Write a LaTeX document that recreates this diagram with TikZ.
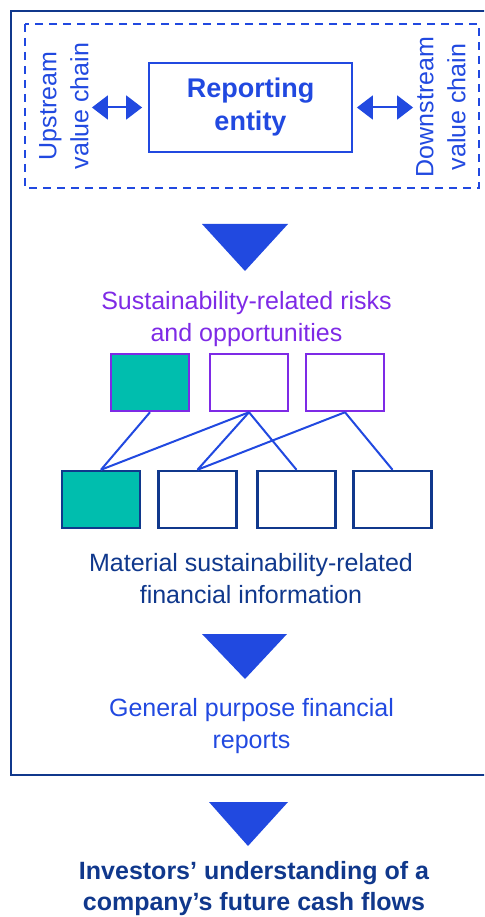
\documentclass[tikz,border=0pt]{standalone}
\usepackage{fontspec}
\setmainfont{Liberation Sans}
\usepackage{tikz}
\usetikzlibrary{arrows.meta}

\definecolor{framenavy}{RGB}{16,56,140}
\definecolor{brightblue}{RGB}{33,73,224}
\definecolor{riskpurple}{RGB}{126,42,230}
\definecolor{matteal}{RGB}{0,190,174}

\begin{document}
\begin{tikzpicture}[x=1pt, y=-1pt,
    txt/.style={align=center, font=\fontsize{25}{32}\selectfont},
    chain/.style={txt, text=brightblue, inner sep=3pt},
    dbl/.style={brightblue, line width=2pt, {Triangle[length=16pt,width=24pt]}-{Triangle[length=16pt,width=24pt]}},
    riskbox/.style={draw=riskpurple, line width=2.5pt, minimum width=78pt, minimum height=57pt},
    matbox/.style={draw=framenavy, line width=2.5pt, minimum width=78pt, minimum height=57pt},
    link/.style={brightblue, line width=2pt},
    down/.style={fill=brightblue}]
    \useasboundingbox (0,0) rectangle (484,917);
    \clip (0,0) rectangle (484,917);

    % outer frame, runs off the right edge
    \draw[framenavy, line width=2.5pt] (11,11) rectangle (500,775);

    % value chain
    \draw[brightblue, line width=2.5pt, dash pattern=on 8pt off 6pt] (25,24) rectangle (479,188);
    \node[draw=brightblue, line width=1.8pt, minimum width=203pt, minimum height=89pt,
          align=center, text=brightblue, font=\bfseries\fontsize{27}{33}\selectfont]
          (rep) at (250.5,107.5) {Reporting\\entity};
    \node[chain, rotate=90] (up) at (64,106) {Upstream\\value chain};
    \node[chain, rotate=90] (dn) at (441,107) {Downstream\\value chain};
    \draw[dbl] (up.south |- rep.west) -- ([xshift=-6pt]rep.west);
    \draw[dbl] ([xshift=4pt]rep.east) -- (dn.north |- rep.east);

    \fill[down] (202,224) -- (288,224) -- (245,271) -- cycle;

    % risks and opportunities
    \node[txt, text=riskpurple] (risks) at (246.5,319.5) {Sustainability-related risks\\and opportunities};
    \node[riskbox, fill=matteal] (r1) at (150,382.5) {};
    \node[riskbox] (r2) at (249,382.5) {};
    \node[riskbox] (r3) at (345,382.5) {};

    \node[matbox, fill=matteal] (m1) at (101,499.5) {};
    \node[matbox] (m2) at (197.5,499.5) {};
    \node[matbox] (m3) at (296.5,499.5) {};
    \node[matbox] (m4) at (392.5,499.5) {};

    \foreach \a/\b in {r1/m1, r2/m1, r2/m2, r2/m3, r3/m2, r3/m4}
        \draw[link] (\a.south) -- (\b.north);

    \node[txt, text=framenavy] (mat) at (251,579) {Material sustainability-related\\financial information};

    \fill[down] (202,634) -- (287,634) -- (245,679) -- cycle;

    \node[txt, text=brightblue] (gpfr) at (251.5,726) {General purpose financial\\reports};

    \fill[down] (209,802) -- (288,802) -- (248,846) -- cycle;

    \node[anchor=north, inner sep=0pt, align=center, text=framenavy,
          font=\bfseries\fontsize{25}{31}\selectfont]
          (inv) at (254,861) {Investors’ understanding of a\\company’s future cash flows};
\end{tikzpicture}
\end{document}
